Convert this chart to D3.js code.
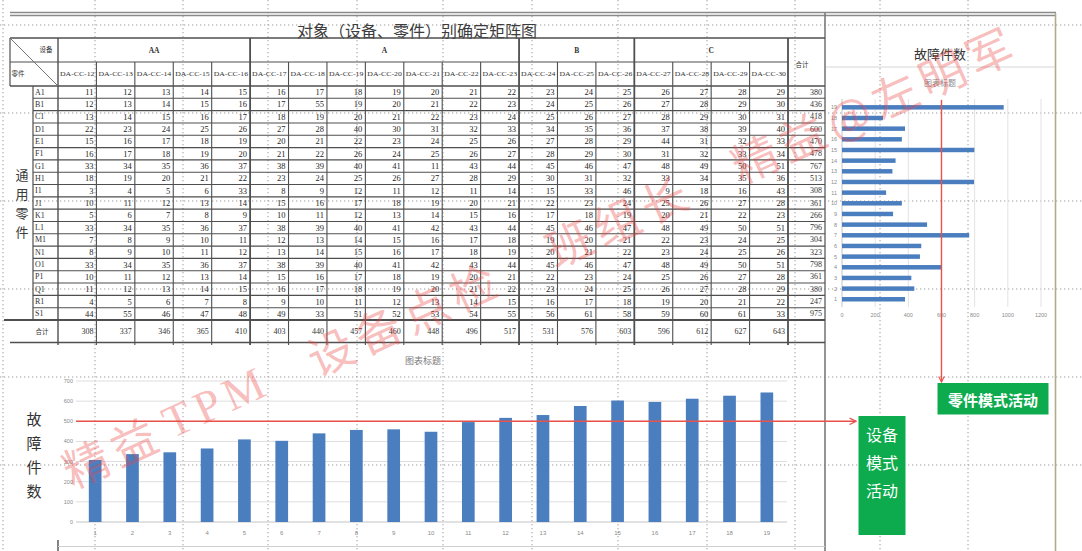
<!DOCTYPE html>
<html>
<head>
<meta charset="utf-8">
<script src="https://cdn.jsdelivr.net/npm/d3@7"></script>
<style>
  body { margin: 0; background: #fff; }
  svg { display: block; }
</style>
</head>
<body>
<div id="canvas"></div>
<script>
var canvas;
var width = 1082;
var height = 551;

// ---- data ----
var titleText = "对象（设备、零件）别确定矩阵图";
var groupNames = ["AA", "A", "B", "C"];
var groupSpans = [5, 7, 3, 4];
var columnNames = ["DA-CC-12", "DA-CC-13", "DA-CC-14", "DA-CC-15", "DA-CC-16", "DA-CC-17", "DA-CC-18",
  "DA-CC-19", "DA-CC-20", "DA-CC-21", "DA-CC-22", "DA-CC-23", "DA-CC-24", "DA-CC-25", "DA-CC-26",
  "DA-CC-27", "DA-CC-28", "DA-CC-29", "DA-CC-30"];
var rowNames = ["A1", "B1", "C1", "D1", "E1", "F1", "G1", "H1", "I1", "J1", "K1", "L1", "M1", "N1",
  "O1", "P1", "Q1", "R1", "S1"];
var partCounts = [
  [11, 12, 13, 14, 15, 16, 17, 18, 19, 20, 21, 22, 23, 24, 25, 26, 27, 28, 29],
  [12, 13, 14, 15, 16, 17, 55, 19, 20, 21, 22, 23, 24, 25, 26, 27, 28, 29, 30],
  [13, 14, 15, 16, 17, 18, 19, 20, 21, 22, 23, 24, 25, 26, 27, 28, 29, 30, 31],
  [22, 23, 24, 25, 26, 27, 28, 40, 30, 31, 32, 33, 34, 35, 36, 37, 38, 39, 40],
  [15, 16, 17, 18, 19, 20, 21, 22, 23, 24, 25, 26, 27, 28, 29, 44, 31, 32, 33],
  [16, 17, 18, 19, 20, 21, 22, 26, 24, 25, 26, 27, 28, 29, 30, 31, 32, 33, 34],
  [33, 34, 35, 36, 37, 38, 39, 40, 41, 11, 43, 44, 45, 46, 47, 48, 49, 50, 51],
  [18, 19, 20, 21, 22, 23, 24, 25, 26, 27, 28, 29, 30, 31, 32, 33, 34, 35, 36],
  [3, 4, 5, 6, 33, 8, 9, 12, 11, 12, 11, 14, 15, 33, 46, 9, 18, 16, 43],
  [10, 11, 12, 13, 14, 15, 16, 17, 18, 19, 20, 21, 22, 23, 24, 25, 26, 27, 28],
  [5, 6, 7, 8, 9, 10, 11, 12, 13, 14, 15, 16, 17, 18, 19, 20, 21, 22, 23],
  [33, 34, 35, 36, 37, 38, 39, 40, 41, 42, 43, 44, 45, 46, 47, 48, 49, 50, 51],
  [7, 8, 9, 10, 11, 12, 13, 14, 15, 16, 17, 18, 19, 20, 21, 22, 23, 24, 25],
  [8, 9, 10, 11, 12, 13, 14, 15, 16, 17, 18, 19, 20, 21, 22, 23, 24, 25, 26],
  [33, 34, 35, 36, 37, 38, 39, 40, 41, 42, 43, 44, 45, 46, 47, 48, 49, 50, 51],
  [10, 11, 12, 13, 14, 15, 16, 17, 18, 19, 20, 21, 22, 23, 24, 25, 26, 27, 28],
  [11, 12, 13, 14, 15, 16, 17, 18, 19, 20, 21, 22, 23, 24, 25, 26, 27, 28, 29],
  [4, 5, 6, 7, 8, 9, 10, 11, 12, 13, 14, 15, 16, 17, 18, 19, 20, 21, 22],
  [44, 55, 46, 47, 48, 49, 33, 51, 52, 53, 54, 55, 56, 61, 58, 59, 60, 61, 33]
];
var columnTotals = [308, 337, 346, 365, 410, 403, 440, 457, 460, 448, 496, 517, 531, 576, 603, 596, 612, 627, 643];
var rowTotals = [380, 436, 418, 600, 470, 478, 767, 513, 308, 361, 266, 796, 304, 323, 798, 361, 380, 247, 975];
var barLabels = ["1", "2", "3", "4", "5", "6", "7", "8", "9", "10", "11", "12", "13", "14", "15", "16", "17", "18", "19"];
var bottomTicks = [0, 100, 200, 300, 400, 500, 600, 700];
var sideTicks = [0, 200, 400, 600, 800, 1000, 1200];
var equipmentLimit = 500;
var partLimit = 600;
var watermarkParts = ["精益", "TPM", "设备点检", "班组长", "精益@左明军"];

var lineColor = "#4f4f4f";
var barColor = "#4a7ebf";
var cjk = "'Noto Sans CJK SC', sans-serif";
var serif = "'Liberation Serif', serif";

function hline(y, x1, x2, w, c){
  canvas.append("line").attr("x1", x1).attr("x2", x2).attr("y1", y).attr("y2", y)
    .attr("stroke", c || lineColor).attr("stroke-width", w || 1);
}
function vline(x, y1, y2, w, c){
  canvas.append("line").attr("x1", x).attr("x2", x).attr("y1", y1).attr("y2", y2)
    .attr("stroke", c || lineColor).attr("stroke-width", w || 1);
}

function drawPageGrid(){
  var gx = [3, 95, 183, 268, 357, 443, 532, 618, 707, 795, 880, 968];
  var gy = [25, 113, 201, 289, 377, 465, 552];
  canvas.selectAll(".gv").data(gx).enter().append("line")
    .attr("x1", function(d){ return d; }).attr("x2", function(d){ return d; })
    .attr("y1", 0).attr("y2", height)
    .attr("stroke", "#9c9c9c").attr("stroke-dasharray", "1.3,2.7");
  canvas.selectAll(".gh").data(gy).enter().append("line")
    .attr("y1", function(d){ return d; }).attr("y2", function(d){ return d; })
    .attr("x1", 0).attr("x2", width)
    .attr("stroke", "#9c9c9c").attr("stroke-dasharray", "1.3,2.7");

  hline(12.5, 10, 1056, 1.3, "#8a8a8a");
  hline(15.5, 10, 1056, 1.3, "#8a8a8a");
  vline(825, 13, height, 1.6, "#7a7a7a");
  vline(1055.5, 13, height, 1.6, "#b1ab8c");
}

function drawTable(){
  var x = d3.scaleBand().domain(columnNames).range([58, 788]);
  var y = d3.scaleBand().domain(rowNames).range([86, 320]);
  var bw = x.bandwidth();
  var rh = y.bandwidth();

  canvas.append("text").attr("x", 417).attr("y", 30)
    .attr("text-anchor", "middle").attr("dominant-baseline", "central")
    .style("font-family", cjk).style("font-size", "16px").attr("fill", "#3c3c3c")
    .text(titleText);

  // grid of the table
  hline(38, 10, 825, 1.4);
  hline(62, 10, 788, 1.2);
  hline(86, 10, 825, 1.6);
  rowNames.slice(1).forEach(function(r){ hline(y(r), 33, 825, 1.1); });
  hline(320, 4, 825, 1.8);
  hline(342.5, 10, 825, 1.4);
  vline(10, 38, 86, 1.2);
  vline(33, 86, 320, 1.2);
  vline(58, 38, 345, 1.4);
  vline(58, 540, height, 1.4);
  canvas.append("line").attr("x1", 10).attr("y1", 38).attr("x2", 58).attr("y2", 86)
    .attr("stroke", "#666").attr("stroke-width", 0.9);

  var start = 0;
  var groupEdges = [];
  groupNames.forEach(function(g, i){
    var c0 = columnNames[start];
    var c1 = columnNames[start + groupSpans[i] - 1];
    var cx = (x(c0) + x(c1) + bw) / 2;
    canvas.append("text").attr("x", cx).attr("y", 50)
      .attr("text-anchor", "middle").attr("dominant-baseline", "central")
      .style("font-family", serif).style("font-size", "7.5px").style("font-weight", "bold")
      .attr("fill", "#333").text(g);
    groupEdges.push(x(c1) + bw);
    start += groupSpans[i];
  });
  columnNames.forEach(function(c){
    var edge = x(c) + bw;
    if (groupEdges.indexOf(edge) < 0) vline(edge, 62, 345, 1.1);
  });
  groupEdges.forEach(function(e){ vline(e, 38, 345, 1.8); });

  canvas.append("text").attr("x", 46).attr("y", 49).attr("text-anchor", "middle")
    .attr("dominant-baseline", "central").style("font-family", cjk).style("font-size", "6.5px")
    .attr("fill", "#333").text("设备");
  canvas.append("text").attr("x", 18).attr("y", 73).attr("text-anchor", "middle")
    .attr("dominant-baseline", "central").style("font-family", cjk).style("font-size", "6.5px")
    .attr("fill", "#333").text("零件");
  canvas.append("text").attr("x", 802).attr("y", 64).attr("text-anchor", "middle")
    .attr("dominant-baseline", "central").style("font-family", cjk).style("font-size", "6.5px")
    .attr("fill", "#333").text("合计");

  canvas.selectAll(".colname").data(columnNames).enter().append("text")
    .attr("x", function(d){ return x(d) + bw / 2; }).attr("y", 74)
    .attr("text-anchor", "middle").attr("dominant-baseline", "central")
    .attr("textLength", bw - 4).attr("lengthAdjust", "spacingAndGlyphs")
    .style("font-family", serif).style("font-size", "7px").attr("fill", "#333")
    .text(function(d){ return d; });

  // left vertical caption
  ["通", "用", "零", "件"].forEach(function(ch, i){
    canvas.append("text").attr("x", 22).attr("y", 174 + i * 19)
      .attr("text-anchor", "middle").attr("dominant-baseline", "central")
      .style("font-family", cjk).style("font-size", "13px").attr("fill", "#3a3a3a").text(ch);
  });

  canvas.selectAll(".rowname").data(rowNames).enter().append("text")
    .attr("x", 35).attr("y", function(d){ return y(d) + rh / 2; })
    .attr("dominant-baseline", "central")
    .style("font-family", serif).style("font-size", "8px").attr("fill", "#333")
    .text(function(d){ return d; });

  partCounts.forEach(function(row, ri){
    canvas.selectAll(".cell" + ri).data(row).enter().append("text")
      .attr("x", function(d, ci){ return x(columnNames[ci]) + bw - 3; })
      .attr("y", y(rowNames[ri]) + rh / 2)
      .attr("text-anchor", "end").attr("dominant-baseline", "central")
      .style("font-family", serif).style("font-size", "8.5px").attr("fill", "#262626")
      .text(function(d){ return d; });
  });

  canvas.selectAll(".rowtotal").data(rowTotals).enter().append("text")
    .attr("x", 822).attr("y", function(d, i){ return y(rowNames[i]) + rh / 2; })
    .attr("text-anchor", "end").attr("dominant-baseline", "central")
    .style("font-family", serif).style("font-size", "8px").attr("fill", "#333")
    .text(function(d){ return d; });

  canvas.append("text").attr("x", 42).attr("y", 331).attr("text-anchor", "middle")
    .attr("dominant-baseline", "central").style("font-family", cjk).style("font-size", "6.5px")
    .attr("fill", "#333").text("合计");
  canvas.selectAll(".coltotal").data(columnTotals).enter().append("text")
    .attr("x", function(d, i){ return x(columnNames[i]) + bw - 3; }).attr("y", 331)
    .attr("text-anchor", "end").attr("dominant-baseline", "central")
    .style("font-family", serif).style("font-size", "8px").attr("fill", "#333")
    .text(function(d){ return d; });
}

function drawBottomChart(){
  var x = d3.scaleBand().domain(barLabels).range([76.5, 785.5]).paddingInner(0.66).paddingOuter(0.33);
  var y = d3.scaleLinear().domain([0, 700]).range([522, 381]);

  hline(546.5, 58, 825, 1, "#cfcfcf");

  canvas.append("text").attr("x", 423).attr("y", 360).attr("text-anchor", "middle")
    .attr("dominant-baseline", "central").style("font-family", cjk).style("font-size", "9px")
    .attr("fill", "#7a7a7a").text("图表标题");

  canvas.selectAll(".bgrid").data(bottomTicks).enter().append("line")
    .attr("x1", 76).attr("x2", 787)
    .attr("y1", function(d){ return y(d); }).attr("y2", function(d){ return y(d); })
    .attr("stroke", function(d){ return d === 0 ? "#c4c4c4" : "#dedede"; }).attr("stroke-width", 1);
  canvas.selectAll(".btick").data(bottomTicks).enter().append("text")
    .attr("x", 73).attr("y", function(d){ return y(d); })
    .attr("text-anchor", "end").attr("dominant-baseline", "central")
    .style("font-family", "'Liberation Sans', sans-serif").style("font-size", "5.5px").attr("fill", "#8a8a8a")
    .text(function(d){ return d; });

  canvas.selectAll(".bbar").data(columnTotals).enter().append("rect")
    .attr("x", function(d, i){ return x(barLabels[i]); })
    .attr("width", x.bandwidth())
    .attr("y", function(d){ return y(d); })
    .attr("height", function(d){ return y(0) - y(d); })
    .attr("fill", barColor);

  canvas.selectAll(".blabel").data(barLabels).enter().append("text")
    .attr("x", function(d){ return x(d) + x.bandwidth() / 2; }).attr("y", 533)
    .attr("text-anchor", "middle").attr("dominant-baseline", "central")
    .style("font-family", "'Liberation Sans', sans-serif").style("font-size", "6px").attr("fill", "#8a8a8a")
    .text(function(d){ return d; });

  ["故", "障", "件", "数"].forEach(function(ch, i){
    canvas.append("text").attr("x", 34).attr("y", 418 + i * 24)
      .attr("text-anchor", "middle").attr("dominant-baseline", "central")
      .style("font-family", cjk).style("font-size", "15px").attr("fill", "#333").text(ch);
  });

  // equipment mode line -> box
  var ly = y(equipmentLimit);
  canvas.append("line").attr("x1", 76).attr("x2", 856).attr("y1", ly).attr("y2", ly)
    .attr("stroke", "#e8524a").attr("stroke-width", 1.6).attr("marker-end", "url(#arrow)");
}

function drawSideChart(){
  var x = d3.scaleLinear().domain([0, 1200]).range([842, 1041]);
  var y = d3.scaleBand().domain(barLabels.slice().reverse()).range([102, 304.6])
    .paddingInner(0.58).paddingOuter(0.29);

  canvas.append("text").attr("x", 940).attr("y", 53).attr("text-anchor", "middle")
    .attr("dominant-baseline", "central").style("font-family", cjk).style("font-size", "13px")
    .attr("fill", "#333").text("故障件数");
  hline(67, 826, 1055, 1, "#d6d6d6");
  canvas.append("text").attr("x", 940).attr("y", 82).attr("text-anchor", "middle")
    .attr("dominant-baseline", "central").style("font-family", cjk).style("font-size", "8px")
    .attr("fill", "#8a8a8a").text("图表标题");

  canvas.selectAll(".sgrid").data(sideTicks).enter().append("line")
    .attr("x1", function(d){ return x(d); }).attr("x2", function(d){ return x(d); })
    .attr("y1", 99).attr("y2", 307)
    .attr("stroke", function(d){ return d === 0 ? "#c4c4c4" : "#e2e2e2"; }).attr("stroke-width", 1);
  canvas.selectAll(".stick").data(sideTicks).enter().append("text")
    .attr("x", function(d){ return x(d); }).attr("y", 315)
    .attr("text-anchor", "middle").attr("dominant-baseline", "central")
    .style("font-family", "'Liberation Sans', sans-serif").style("font-size", "5.5px").attr("fill", "#8a8a8a")
    .text(function(d){ return d; });

  canvas.selectAll(".sbar").data(rowTotals).enter().append("rect")
    .attr("x", x(0)).attr("y", function(d, i){ return y(barLabels[i]); })
    .attr("height", y.bandwidth())
    .attr("width", function(d){ return x(d) - x(0); })
    .attr("fill", barColor);
  canvas.selectAll(".slabel").data(barLabels).enter().append("text")
    .attr("x", 837).attr("y", function(d){ return y(d) + y.bandwidth() / 2; })
    .attr("text-anchor", "end").attr("dominant-baseline", "central")
    .style("font-family", "'Liberation Sans', sans-serif").style("font-size", "5.5px").attr("fill", "#8a8a8a")
    .text(function(d){ return d; });

  // part mode line -> box
  var lx = x(partLimit);
  canvas.append("line").attr("x1", lx).attr("x2", lx).attr("y1", 100).attr("y2", 382)
    .attr("stroke", "#e8524a").attr("stroke-width", 1.4).attr("marker-end", "url(#arrow)");
}

function drawBoxes(){
  canvas.append("rect").attr("x", 858.5).attr("y", 416).attr("width", 47).attr("height", 119)
    .attr("fill", "#0dab4e");
  ["设备", "模式", "活动"].forEach(function(t, i){
    canvas.append("text").attr("x", 882).attr("y", 434 + i * 28)
      .attr("text-anchor", "middle").attr("dominant-baseline", "central")
      .style("font-family", cjk).style("font-size", "16px").attr("fill", "#fff").text(t);
  });
  canvas.append("rect").attr("x", 937.5).attr("y", 383).attr("width", 111).attr("height", 31.5)
    .attr("fill", "#0dab4e");
  canvas.append("text").attr("x", 993).attr("y", 399)
    .attr("text-anchor", "middle").attr("dominant-baseline", "central")
    .style("font-family", cjk).style("font-size", "15px").style("font-weight", "bold")
    .attr("fill", "#fff").text("零件模式活动");
}

function drawWatermark(){
  // each piece placed on its own so no text runs past the frame
  var starts = [-24, 87, 245, 507, 711];
  var g = canvas.append("g").attr("transform", "translate(86,461) rotate(-24.5)");
  watermarkParts.forEach(function(t, i){
    g.append("text").attr("x", starts[i]).attr("y", 0)
      .attr("dominant-baseline", "central")
      .style("font-family", i === 1 ? "'Liberation Serif', serif" : cjk)
      .style("font-size", "46px").style("letter-spacing", "6px")
      .attr("fill", "rgba(236,70,70,0.36)")
      .text(t);
  });
}

function initializeLayout(){
  canvas = d3.select("#canvas")
    .append("svg")
    .attr("width", width)
    .attr("height", height);

  canvas.append("defs").append("marker")
    .attr("id", "arrow").attr("viewBox", "0 0 10 10").attr("refX", 9).attr("refY", 5)
    .attr("markerWidth", 5).attr("markerHeight", 5).attr("orient", "auto")
    .append("path").attr("d", "M1,1 L9,5 L1,9").attr("fill", "none")
    .attr("stroke", "#e8524a").attr("stroke-width", 1.6);

  drawPageGrid();
  drawTable();
  drawBottomChart();
  drawSideChart();
  drawBoxes();
  drawWatermark();
}

window.onload = initializeLayout;
</script>
</body>
</html>
